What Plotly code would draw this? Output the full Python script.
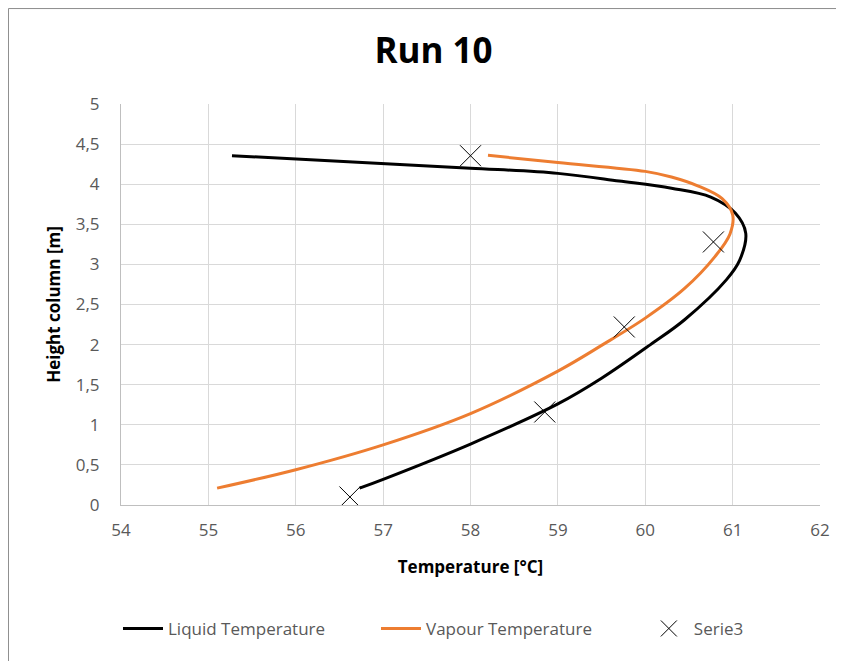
import plotly.graph_objects as go

# Liquid temperature curve (T [°C], height [m])
liquid_T = [56.73, 57.0, 58.0, 59.0, 59.5, 60.06, 60.45, 60.93, 61.08, 61.15,
            61.03, 60.75, 60.3, 59.7, 59.0, 58.0, 56.6, 55.27]
liquid_h = [0.21, 0.32, 0.76, 1.26, 1.58, 2.0, 2.31, 2.81, 3.05, 3.39,
            3.64, 3.84, 3.95, 4.04, 4.135, 4.20, 4.28, 4.355]

# Vapour temperature curve
vapour_T = [55.10, 56.0, 57.0, 58.0, 59.0, 59.5, 60.0, 60.45, 60.8, 60.97, 61.0,
            60.88, 60.6, 60.3, 60.0, 59.0, 58.2]
vapour_h = [0.21, 0.44, 0.75, 1.14, 1.67, 1.99, 2.33, 2.70, 3.10, 3.38, 3.62,
            3.82, 3.98, 4.09, 4.16, 4.27, 4.36]

# Serie3 measured points
serie3_T = [56.62, 58.85, 59.76, 60.78, 58.0]
serie3_h = [0.10, 1.16, 2.22, 3.28, 4.355]

x_ticks = [54, 55, 56, 57, 58, 59, 60, 61, 62]
y_ticks = [0, 0.5, 1, 1.5, 2, 2.5, 3, 3.5, 4, 4.5, 5]

FONT = "Open Sans, Noto Sans, DejaVu Sans, sans-serif"
GREY = "#595959"

fig = go.Figure()
fig.add_trace(go.Scatter(x=liquid_T, y=liquid_h, mode="lines", name="Liquid Temperature",
                         line=dict(color="#000000", width=3, shape="spline", smoothing=1.0),
                         legend="legend"))
fig.add_trace(go.Scatter(x=vapour_T, y=vapour_h, mode="lines", name="Vapour Temperature",
                         line=dict(color="#ED7D31", width=3, shape="spline", smoothing=1.0),
                         legend="legend"))
fig.add_trace(go.Scatter(x=serie3_T, y=serie3_h, mode="markers", name="Serie3",
                         marker=dict(symbol="x-thin-open", size=21,
                                     line=dict(color="#000000", width=1), color="#000000"),
                         legend="legend2"))

# chart-area border (left and top visible), at the figure's own edge
fig.add_shape(type="line", xref="paper", yref="paper",
              x0=-0.161, x1=-0.161, y0=-0.40, y1=1.238,
              line=dict(color="#8C8C8C", width=1), layer="above")
fig.add_shape(type="line", xref="paper", yref="paper",
              x0=-0.161, x1=1.04, y0=1.238, y1=1.238,
              line=dict(color="#8C8C8C", width=1), layer="above")

leg_common = dict(orientation="h", y=-0.309, yanchor="middle", xanchor="left",
                  font=dict(family=FONT, size=17, color=GREY), bgcolor="rgba(0,0,0,0)",
                  itemwidth=40)

fig.update_layout(
    width=836, height=653,
    margin=dict(l=113, r=24, t=96, b=156),
    paper_bgcolor="white", plot_bgcolor="white",
    separators=",.",
    font=dict(family=FONT, color=GREY, size=17),
    title=dict(text="<b>Run 10</b>", x=425.5 / 836, xref="container",
               xanchor="center", y=1 - 43 / 653, yanchor="middle",
               font=dict(family=FONT, size=35, color="#000000")),
    showlegend=True,
    legend=dict(x=-0.0043, entrywidth=203, entrywidthmode="pixels", **leg_common),
    legend2=dict(x=0.748, **leg_common),
    xaxis=dict(range=[54, 62], tickvals=x_ticks, showgrid=True, gridcolor="#D9D9D9", gridwidth=1,
               showline=True, linecolor="#BFBFBF", linewidth=1, zeroline=False,
               ticks="", ticklabelstandoff=10,
               tickfont=dict(family=FONT, size=17, color=GREY),
               title=dict(text="<b>Temperature [°C]</b>", standoff=20,
                          font=dict(family=FONT, size=17, color="#000000"))),
    yaxis=dict(range=[0, 5], tickvals=y_ticks, showgrid=True, gridcolor="#D9D9D9", gridwidth=1,
               showline=True, linecolor="#BFBFBF", linewidth=1, zeroline=False,
               ticks="", ticklabelstandoff=17,
               tickfont=dict(family=FONT, size=17, color=GREY),
               title=dict(text="<b>Height column [m]</b>", standoff=10,
                          font=dict(family=FONT, size=17, color="#000000"))),
)

fig.write_html("out.html")
